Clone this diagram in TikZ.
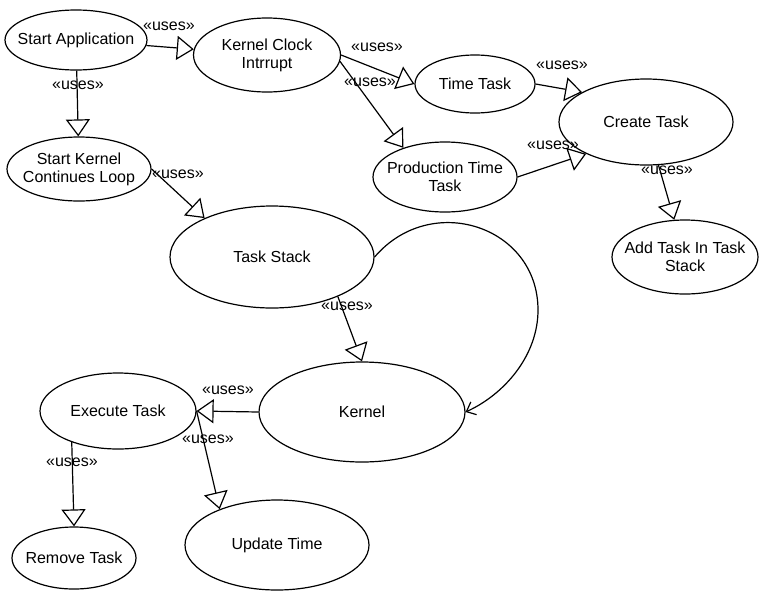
\documentclass[tikz,border=0pt]{standalone}
\usepackage{fontspec}
\setmainfont{Liberation Sans}
\usepackage{tikz}
\usetikzlibrary{shapes.geometric,arrows.meta}

\begin{document}
\begin{tikzpicture}[
    x=1pt, y=-1pt,
    ucfont/.style={font=\fontsize{16}{18}\selectfont},
    usecase/.style n args={3}{ellipse, draw, line width=1.2pt, inner sep=0pt, minimum width=#1, minimum height=#2, label={[ucfont, align=center]center:#3}},
    uses/.style={-{Triangle[open, length=17pt, width=24pt]}, line width=1.2pt},
    stereo/.style={font=\fontsize{16}{18}\selectfont, inner sep=0pt},
    selfarc/.style={-{Straight Barb[length=8pt, width=14pt]}, line width=1.2pt}
]
    \useasboundingbox (0,0) rectangle (759,592);

    % Start-up cases (top left)
    \node[usecase={142pt}{60pt}{Start Application}] (startapp) at (76,40) {};
    \node[usecase={147pt}{74pt}{Kernel Clock\\Intrrupt}] (kclock) at (267,55) {};
    \node[usecase={144pt}{64pt}{Start Kernel\\Continues Loop}] (skernel) at (79,169) {};

    % Task creation (top right)
    \node[usecase={120pt}{58pt}{Time Task}] (ttask) at (475,84) {};
    \node[usecase={144pt}{70pt}{Production Time\\Task}] (ptime) at (445,177) {};
    \node[usecase={174pt}{86pt}{Create Task}] (ctask) at (646,122) {};
    \node[usecase={146pt}{74pt}{Add Task In Task\\Stack}] (addtask) at (685,257) {};

    % Stack and kernel
    \node[usecase={204pt}{102pt}{Task Stack}] (tstack) at (272,257) {};
    \node[usecase={206pt}{100pt}{Kernel}] (kernel) at (362,412) {};

    % Execution (bottom)
    \node[usecase={156pt}{76pt}{Execute Task}] (extask) at (118,411) {};
    \node[usecase={124pt}{62pt}{Remove Task}] (rmtask) at (74,558) {};
    \node[usecase={184pt}{90pt}{Update Time}] (uptime) at (277,545) {};

    % Relations
    \draw[uses] (startapp) -- (kclock);
    \draw[uses] (startapp) -- (skernel);
    \draw[uses] (skernel.east) -- (tstack.150);
    \draw[uses] (kclock.east) -- (ttask.west);
    \draw[uses] (kclock.-5) -- (ptime.145);
    \draw[uses] (ttask.east) -- (ctask.155);
    \draw[uses] (ptime.east) -- (ctask.208);
    \draw[uses] (ctask) -- (addtask);
    \draw[uses] (tstack.-31) -- (kernel.north);
    \draw[uses] (kernel.west) -- (extask.east);
    \draw[uses] (extask.east) -- (uptime.148);
    \draw[uses] (extask.214) -- (rmtask.north);

    % Stack feeds back into the kernel
    \coordinate (turn) at (538,310);
    \draw[selfarc] (tstack.east) .. controls (431,191) and (538,226) .. (turn)
        .. controls (538,355) and (505,394) .. (kernel.east);

    % Stereotype tags
    \node[stereo] (tag1) at (169,26) {«uses»};
    \node[stereo] (tag2) at (78,85) {«uses»};
    \node[stereo] (tag3) at (178,174) {«uses»};
    \node[stereo] (tag4) at (377,47) {«uses»};
    \node[stereo] (tag5) at (370,82) {«uses»};
    \node[stereo] (tag6) at (562,65) {«uses»};
    \node[stereo] (tag7) at (553,145) {«uses»};
    \node[stereo] (tag8) at (667,170) {«uses»};
    \node[stereo] (tag9) at (347,306) {«uses»};
    \node[stereo] (tag10) at (228,390) {«uses»};
    \node[stereo] (tag11) at (208,439) {«uses»};
    \node[stereo] (tag12) at (72,462) {«uses»};

\end{tikzpicture}
\end{document}
